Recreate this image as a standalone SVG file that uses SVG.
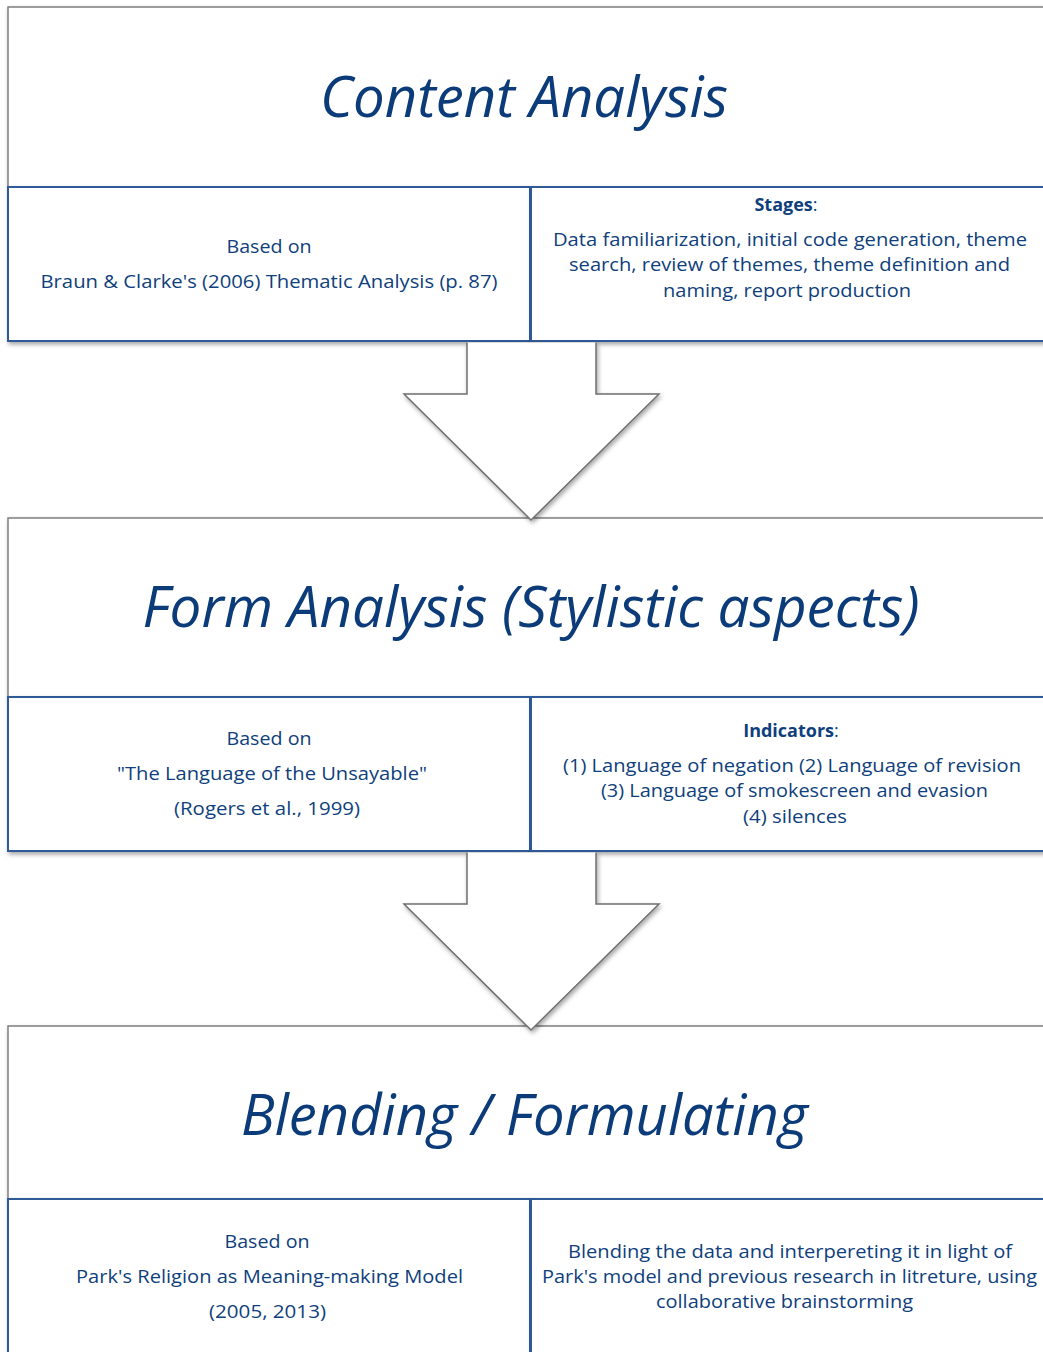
<svg xmlns="http://www.w3.org/2000/svg" width="1043" height="1352" viewBox="0 0 1043 1352">
<defs>
<filter id="sh" x="-5%" y="-5%" width="115%" height="120%">
<feDropShadow dx="1.5" dy="2.5" stdDeviation="2" flood-color="#000" flood-opacity="0.35"/>
</filter>
</defs>
<style>
.outer{fill:#fff;stroke:#7f7f7f;stroke-width:1.5}
.sub{fill:#fff;stroke:#2f5a97;stroke-width:2}
.arrow{fill:#fff;stroke:none}
.arrowline{fill:none;stroke:#6f6f6f;stroke-width:1.5}
.title{font-family:"Open Sans","Lato",sans-serif;font-style:italic;font-size:57px;fill:#0b3b78;text-anchor:middle}
.t{font-family:"Open Sans","Noto Sans",sans-serif;font-size:18px;fill:#0f3f7c;text-anchor:middle}
.b{font-weight:bold}
</style>

<g id="node-content-analysis">
<rect class="outer" x="8" y="7" width="1050" height="180" filter="url(#sh)"/>
<text class="title" x="524" y="117" textLength="408" lengthAdjust="spacingAndGlyphs">Content Analysis</text>
</g>

<g id="node-content-based">
<rect class="sub" x="8" y="187" width="522" height="154" filter="url(#sh)"/>
<text class="t" x="269" y="253" textLength="85" lengthAdjust="spacingAndGlyphs">Based on</text>
<text class="t" x="269" y="288" textLength="457" lengthAdjust="spacingAndGlyphs">Braun &amp; Clarke's (2006) Thematic Analysis (p. 87)</text>
</g>

<g id="node-content-stages">
<rect class="sub" x="531" y="187" width="520" height="154" filter="url(#sh)"/>
<text class="t" x="786" y="211"><tspan class="b">Stages</tspan>:</text>
<text class="t" x="790" y="246" textLength="474" lengthAdjust="spacingAndGlyphs">Data familiarization, initial code generation, theme</text>
<text class="t" x="789.5" y="271" textLength="441" lengthAdjust="spacingAndGlyphs">search, review of themes, theme definition and</text>
<text class="t" x="787" y="297" textLength="248" lengthAdjust="spacingAndGlyphs">naming, report production</text>
</g>

<g id="node-form-analysis">
<rect class="outer" x="8" y="518" width="1050" height="179" filter="url(#sh)"/>
<text class="title" x="531" y="627" textLength="777" lengthAdjust="spacingAndGlyphs">Form Analysis (Stylistic aspects)</text>
</g>

<g id="node-form-based">
<rect class="sub" x="8" y="697" width="522" height="154" filter="url(#sh)"/>
<text class="t" x="269" y="745" textLength="85" lengthAdjust="spacingAndGlyphs">Based on</text>
<text class="t" x="272" y="780" textLength="310" lengthAdjust="spacingAndGlyphs">"The Language of the Unsayable"</text>
<text class="t" x="267" y="815" textLength="186" lengthAdjust="spacingAndGlyphs">(Rogers et al., 1999)</text>
</g>

<g id="node-form-indicators">
<rect class="sub" x="531" y="697" width="520" height="154" filter="url(#sh)"/>
<text class="t" x="791" y="737"><tspan class="b">Indicators</tspan>:</text>
<text class="t" x="792" y="772" textLength="458" lengthAdjust="spacingAndGlyphs">(1) Language of negation (2) Language of revision</text>
<text class="t" x="794.5" y="797" textLength="387" lengthAdjust="spacingAndGlyphs">(3) Language of smokescreen and evasion</text>
<text class="t" x="795" y="823" textLength="104" lengthAdjust="spacingAndGlyphs">(4) silences</text>
</g>

<g id="node-blending">
<rect class="outer" x="8" y="1026" width="1050" height="173" filter="url(#sh)"/>
<text class="title" x="524.5" y="1135" textLength="567" lengthAdjust="spacingAndGlyphs">Blending / Formulating</text>
</g>

<g id="node-blending-based">
<rect class="sub" x="8" y="1199" width="522" height="170" filter="url(#sh)"/>
<text class="t" x="267" y="1248" textLength="85" lengthAdjust="spacingAndGlyphs">Based on</text>
<text class="t" x="269.5" y="1283" textLength="387" lengthAdjust="spacingAndGlyphs">Park's Religion as Meaning-making Model</text>
<text class="t" x="267.5" y="1318" textLength="117" lengthAdjust="spacingAndGlyphs">(2005, 2013)</text>
</g>

<g id="node-blending-desc">
<rect class="sub" x="531" y="1199" width="520" height="170" filter="url(#sh)"/>
<text class="t" x="790" y="1258" textLength="444" lengthAdjust="spacingAndGlyphs">Blending the data and interpereting it in light of</text>
<text class="t" x="789.5" y="1283" textLength="495" lengthAdjust="spacingAndGlyphs">Park's model and previous research in litreture, using</text>
<text class="t" x="784.5" y="1308" textLength="257" lengthAdjust="spacingAndGlyphs">collaborative brainstorming</text>
</g>

<g id="connectors">
<g id="arrow1" filter="url(#sh)">
<polygon class="arrow" points="467,342.5 467,394 404,394 531,520 659,394 596,394 596,342.5"/>
<path class="arrowline" d="M467,342.5 V394 H404 L531,520 L659,394 H596 V342.5"/>
</g>
<g id="arrow2" filter="url(#sh)">
<polygon class="arrow" points="467,852.5 467,904 404,904 531,1030 659,904 596,904 596,852.5"/>
<path class="arrowline" d="M467,852.5 V904 H404 L531,1030 L659,904 H596 V852.5"/>
</g>
</g>
</svg>
